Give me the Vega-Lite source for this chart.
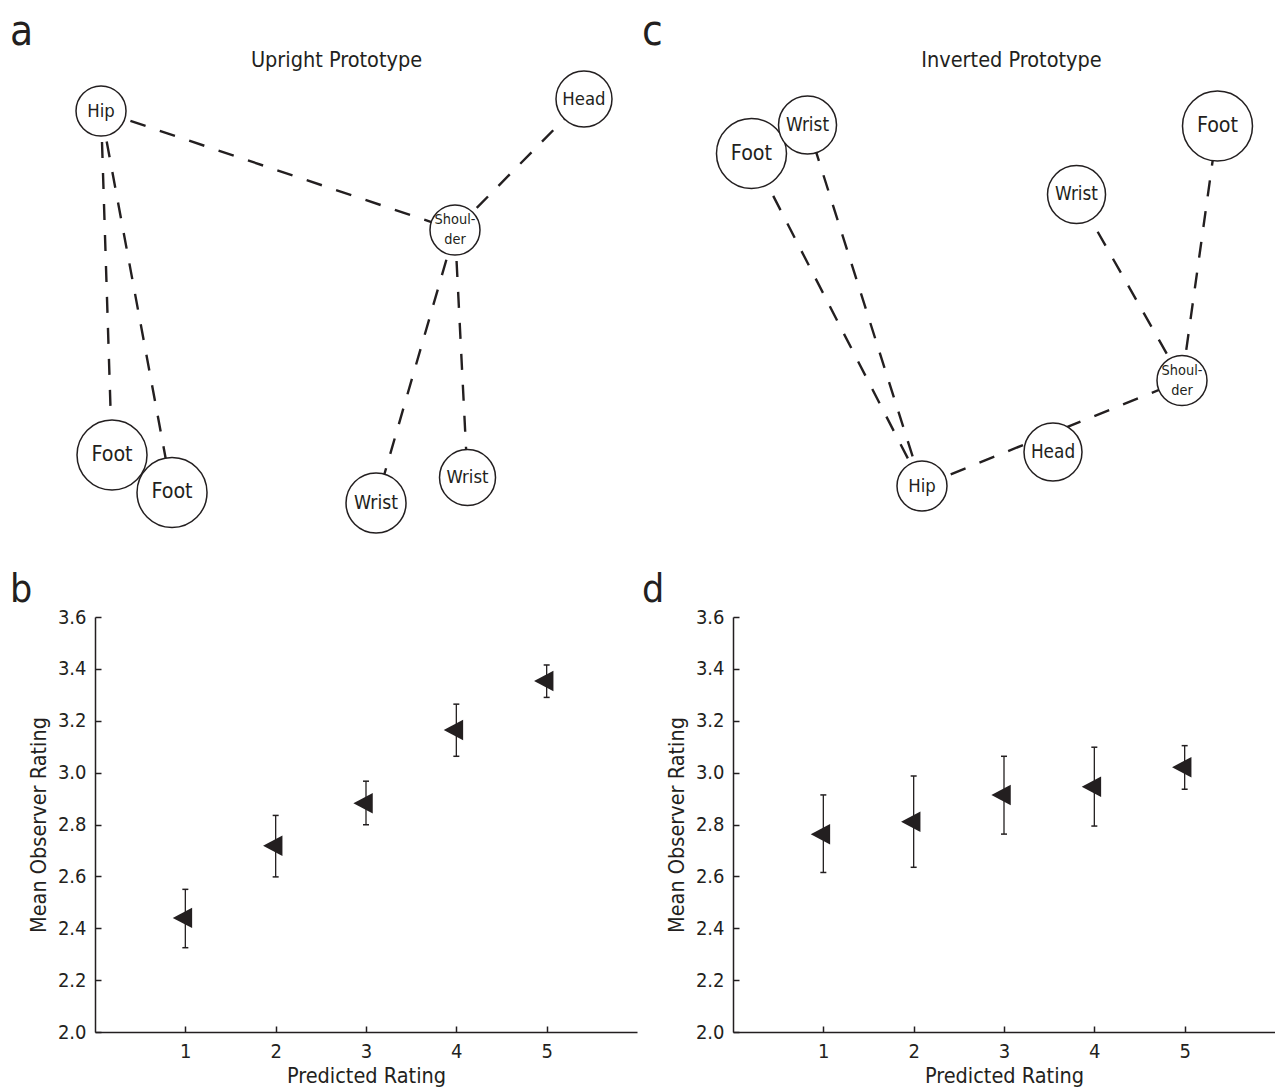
{
  "$schema": "https://vega.github.io/schema/vega-lite/v6.json",
  "background": "white",
  "padding": {"left": 10, "top": 11, "right": 0, "bottom": 0},
  "columns": 2,
  "spacing": {"row": 81, "column": 96},
  "bounds": "flush",
  "datasets": {
    "nodes": [
      {"panel": "a", "id": "a_hip", "part": "Hip", "label": "Hip", "x": 1.11, "y": 92.39, "w": 2.5},
      {"panel": "a", "id": "a_head", "part": "Head", "label": "Head", "x": 90.22, "y": 95.0, "w": 2.8},
      {"panel": "a", "id": "a_sh", "part": "Shoulder", "label": "Shoul-\nder", "x": 66.42, "y": 66.52, "w": 2.5},
      {"panel": "a", "id": "a_foot1", "part": "Foot", "label": "Foot", "x": 3.14, "y": 17.61, "w": 3.5},
      {"panel": "a", "id": "a_foot2", "part": "Foot", "label": "Foot", "x": 14.21, "y": 9.46, "w": 3.5},
      {"panel": "a", "id": "a_wr1", "part": "Wrist", "label": "Wrist", "x": 51.85, "y": 7.17, "w": 3.0},
      {"panel": "a", "id": "a_wr2", "part": "Wrist", "label": "Wrist", "x": 68.73, "y": 12.72, "w": 2.8},
      {"panel": "c", "id": "c_footL", "part": "Foot", "label": "Foot", "x": 3.41, "y": 83.15, "w": 3.5},
      {"panel": "c", "id": "c_wrL", "part": "Wrist", "label": "Wrist", "x": 13.75, "y": 89.35, "w": 2.9},
      {"panel": "c", "id": "c_footR", "part": "Foot", "label": "Foot", "x": 89.39, "y": 89.13, "w": 3.5},
      {"panel": "c", "id": "c_wrR", "part": "Wrist", "label": "Wrist", "x": 63.38, "y": 74.24, "w": 2.9},
      {"panel": "c", "id": "c_sh", "part": "Shoulder", "label": "Shoul-\nder", "x": 82.84, "y": 33.80, "w": 2.5},
      {"panel": "c", "id": "c_head", "part": "Head", "label": "Head", "x": 59.04, "y": 18.26, "w": 2.9},
      {"panel": "c", "id": "c_hip", "part": "Hip", "label": "Hip", "x": 34.87, "y": 10.87, "w": 2.5}
    ],
    "edges": [
      {"panel": "a", "from": "a_hip", "to": "a_sh"},
      {"panel": "a", "from": "a_sh", "to": "a_head"},
      {"panel": "a", "from": "a_hip", "to": "a_foot1"},
      {"panel": "a", "from": "a_hip", "to": "a_foot2"},
      {"panel": "a", "from": "a_sh", "to": "a_wr1"},
      {"panel": "a", "from": "a_sh", "to": "a_wr2"},
      {"panel": "c", "from": "c_hip", "to": "c_sh"},
      {"panel": "c", "from": "c_hip", "to": "c_footL"},
      {"panel": "c", "from": "c_hip", "to": "c_wrL"},
      {"panel": "c", "from": "c_sh", "to": "c_wrR"},
      {"panel": "c", "from": "c_sh", "to": "c_footR"}
    ],
    "ratings": [
      {"panel": "b", "predicted": 1, "mean": 2.44, "lo": 2.325, "hi": 2.55},
      {"panel": "b", "predicted": 2, "mean": 2.718, "lo": 2.598, "hi": 2.835},
      {"panel": "b", "predicted": 3, "mean": 2.882, "lo": 2.799, "hi": 2.967},
      {"panel": "b", "predicted": 4, "mean": 3.164, "lo": 3.063, "hi": 3.264},
      {"panel": "b", "predicted": 5, "mean": 3.353, "lo": 3.29, "hi": 3.415},
      {"panel": "d", "predicted": 1, "mean": 2.762, "lo": 2.615, "hi": 2.914},
      {"panel": "d", "predicted": 2, "mean": 2.811, "lo": 2.635, "hi": 2.987},
      {"panel": "d", "predicted": 3, "mean": 2.914, "lo": 2.763, "hi": 3.063},
      {"panel": "d", "predicted": 4, "mean": 2.946, "lo": 2.794, "hi": 3.098},
      {"panel": "d", "predicted": 5, "mean": 3.021, "lo": 2.936, "hi": 3.104}
    ]
  },
  "config": {
    "view": {"stroke": null},
    "font": "DejaVu Sans Condensed, DejaVu Sans, sans-serif",
    "text": {"font": "DejaVu Sans Condensed, DejaVu Sans, sans-serif"},
    "title": {"font": "DejaVu Sans Condensed, DejaVu Sans, sans-serif", "fontWeight": "normal", "color": "#231f20", "anchor": "start", "frame": "group", "baseline": "alphabetic"},
    "axis": {
      "labelFont": "DejaVu Sans Condensed, DejaVu Sans, sans-serif",
      "titleFont": "DejaVu Sans Condensed, DejaVu Sans, sans-serif",
      "labelFontSize": 20, "titleFontSize": 21.5, "titleFontWeight": "normal",
      "labelColor": "#231f20", "titleColor": "#231f20",
      "domainColor": "#231f20", "domainWidth": 1.5,
      "tickColor": "#231f20", "tickWidth": 1.5, "tickSize": -6, "grid": false
    },
    "axisX": {"labelPadding": 15, "titlePadding": 4},
    "axisY": {"labelPadding": 15, "titlePadding": 7}
  },
  "concat": [
    {
      "width": 542, "height": 460,
      "title": {"text": "a", "fontSize": 42, "dx": -85, "dy": 5, "offset": 0},
      "encoding": {
        "x": {"field": "x", "type": "quantitative", "scale": {"domain": [0, 100], "nice": false},
              "axis": {"orient": "top", "title": "Upright Prototype", "labels": false, "ticks": false, "domain": false,
                       "titleX": 241, "titleY": -10, "titleAlign": "center", "titleBaseline": "alphabetic", "titleFontSize": 21.5}},
        "y": {"field": "y", "type": "quantitative", "scale": {"domain": [0, 100], "nice": false}, "axis": null}
      },
      "layer": [
        {
          "data": {"name": "edges"},
          "transform": [
            {"filter": "datum.panel === 'a'"},
            {"lookup": "from", "from": {"data": {"name": "nodes"}, "key": "id", "fields": ["x", "y"]}},
            {"lookup": "to", "from": {"data": {"name": "nodes"}, "key": "id", "fields": ["x", "y"]}, "as": ["x2", "y2"]}
          ],
          "mark": {"type": "rule", "strokeDash": [16, 15], "strokeWidth": 2.4, "color": "#231f20"},
          "encoding": {"x2": {"field": "x2"}, "y2": {"field": "y2"}}
        },
        {
          "data": {"name": "nodes"},
          "transform": [{"filter": "datum.panel === 'a'"}],
          "mark": {"type": "point", "shape": "circle", "filled": true, "fill": "white", "stroke": "#231f20", "strokeWidth": 1.5, "opacity": 1},
          "encoding": {"size": {"field": "w", "type": "quantitative", "scale": {"type": "pow", "exponent": 2, "domain": [0, 3.5], "range": [0, 4900]}, "legend": null}}
        },
        {
          "data": {"name": "nodes"},
          "transform": [{"filter": "datum.panel === 'a' && datum.part !== 'Shoulder'"}],
          "mark": {"type": "text", "color": "#231f20", "baseline": "middle"},
          "encoding": {"text": {"field": "label"}, "size": {"field": "w", "type": "quantitative", "scale": {"domain": [2.8, 3.5], "range": [18.4, 21.3], "clamp": true}, "legend": null}}
        },
        {
          "data": {"name": "nodes"},
          "transform": [{"filter": "datum.panel === 'a' && datum.part === 'Shoulder'"}],
          "mark": {"type": "text", "color": "#231f20", "baseline": "middle", "fontSize": 14.4, "lineBreak": "\n", "lineHeight": 20, "dy": -10},
          "encoding": {"text": {"field": "label"}}
        }
      ],
      "resolve": {"scale": {"size": "independent"}}
    },
    {
      "width": 542, "height": 460,
      "title": {"text": "c", "fontSize": 42, "dx": -91, "dy": 5, "offset": 0},
      "encoding": {
        "x": {"field": "x", "type": "quantitative", "scale": {"domain": [0, 100], "nice": false},
              "axis": {"orient": "top", "title": "Inverted Prototype", "labels": false, "ticks": false, "domain": false,
                       "titleX": 278, "titleY": -10, "titleAlign": "center", "titleBaseline": "alphabetic", "titleFontSize": 21.5}},
        "y": {"field": "y", "type": "quantitative", "scale": {"domain": [0, 100], "nice": false}, "axis": null}
      },
      "layer": [
        {
          "data": {"name": "edges"},
          "transform": [
            {"filter": "datum.panel === 'c'"},
            {"lookup": "from", "from": {"data": {"name": "nodes"}, "key": "id", "fields": ["x", "y"]}},
            {"lookup": "to", "from": {"data": {"name": "nodes"}, "key": "id", "fields": ["x", "y"]}, "as": ["x2", "y2"]}
          ],
          "mark": {"type": "rule", "strokeDash": [16, 15], "strokeWidth": 2.4, "color": "#231f20"},
          "encoding": {"x2": {"field": "x2"}, "y2": {"field": "y2"}}
        },
        {
          "data": {"name": "nodes"},
          "transform": [{"filter": "datum.panel === 'c'"}],
          "mark": {"type": "point", "shape": "circle", "filled": true, "fill": "white", "stroke": "#231f20", "strokeWidth": 1.5, "opacity": 1},
          "encoding": {"size": {"field": "w", "type": "quantitative", "scale": {"type": "pow", "exponent": 2, "domain": [0, 3.5], "range": [0, 4900]}, "legend": null}}
        },
        {
          "data": {"name": "nodes"},
          "transform": [{"filter": "datum.panel === 'c' && datum.part !== 'Shoulder'"}],
          "mark": {"type": "text", "color": "#231f20", "baseline": "middle"},
          "encoding": {"text": {"field": "label"}, "size": {"field": "w", "type": "quantitative", "scale": {"domain": [2.8, 3.5], "range": [18.4, 21.3], "clamp": true}, "legend": null}}
        },
        {
          "data": {"name": "nodes"},
          "transform": [{"filter": "datum.panel === 'c' && datum.part === 'Shoulder'"}],
          "mark": {"type": "text", "color": "#231f20", "baseline": "middle", "fontSize": 14.4, "lineBreak": "\n", "lineHeight": 20, "dy": -10},
          "encoding": {"text": {"field": "label"}}
        }
      ],
      "resolve": {"scale": {"size": "independent"}}
    },
    {
      "width": 542, "height": 415,
      "title": {"text": "b", "fontSize": 39, "dx": -85, "dy": 9, "offset": 6},
      "data": {"name": "ratings"},
      "transform": [{"filter": "datum.panel === 'b'"}],
      "encoding": {
        "x": {"field": "predicted", "type": "quantitative", "title": "Predicted Rating",
              "scale": {"domain": [0, 6], "nice": false}, "axis": {"values": [1, 2, 3, 4, 5], "format": "d"}}
      },
      "layer": [
        {
          "mark": {"type": "rule", "strokeWidth": 1.3, "color": "#231f20"},
          "encoding": {
            "y": {"field": "lo", "type": "quantitative", "title": "Mean Observer Rating",
                  "scale": {"domain": [2, 3.6], "nice": false},
                  "axis": {"values": [2.0, 2.2, 2.4, 2.6, 2.8, 3.0, 3.2, 3.4, 3.6], "format": ".1f"}},
            "y2": {"field": "hi"}
          }
        },
        {
          "mark": {"type": "tick", "orient": "horizontal", "size": 6, "thickness": 1.5, "color": "#231f20", "opacity": 1},
          "encoding": {"y": {"field": "lo", "type": "quantitative", "title": "Mean Observer Rating"}}
        },
        {
          "mark": {"type": "tick", "orient": "horizontal", "size": 6, "thickness": 1.5, "color": "#231f20", "opacity": 1},
          "encoding": {"y": {"field": "hi", "type": "quantitative", "title": "Mean Observer Rating"}}
        },
        {
          "mark": {"type": "point", "shape": "M-1.23,0L0.66,-1L0.66,1Z", "filled": true, "size": 420, "color": "#231f20", "opacity": 1},
          "encoding": {"y": {"field": "mean", "type": "quantitative", "title": "Mean Observer Rating"}}
        }
      ]
    },
    {
      "width": 542, "height": 415,
      "title": {"text": "d", "fontSize": 39, "dx": -91, "dy": 9, "offset": 6},
      "data": {"name": "ratings"},
      "transform": [{"filter": "datum.panel === 'd'"}],
      "encoding": {
        "x": {"field": "predicted", "type": "quantitative", "title": "Predicted Rating",
              "scale": {"domain": [0, 6], "nice": false}, "axis": {"values": [1, 2, 3, 4, 5], "format": "d"}}
      },
      "layer": [
        {
          "mark": {"type": "rule", "strokeWidth": 1.3, "color": "#231f20"},
          "encoding": {
            "y": {"field": "lo", "type": "quantitative", "title": "Mean Observer Rating",
                  "scale": {"domain": [2, 3.6], "nice": false},
                  "axis": {"values": [2.0, 2.2, 2.4, 2.6, 2.8, 3.0, 3.2, 3.4, 3.6], "format": ".1f"}},
            "y2": {"field": "hi"}
          }
        },
        {
          "mark": {"type": "tick", "orient": "horizontal", "size": 6, "thickness": 1.5, "color": "#231f20", "opacity": 1},
          "encoding": {"y": {"field": "lo", "type": "quantitative", "title": "Mean Observer Rating"}}
        },
        {
          "mark": {"type": "tick", "orient": "horizontal", "size": 6, "thickness": 1.5, "color": "#231f20", "opacity": 1},
          "encoding": {"y": {"field": "hi", "type": "quantitative", "title": "Mean Observer Rating"}}
        },
        {
          "mark": {"type": "point", "shape": "M-1.23,0L0.66,-1L0.66,1Z", "filled": true, "size": 420, "color": "#231f20", "opacity": 1},
          "encoding": {"y": {"field": "mean", "type": "quantitative", "title": "Mean Observer Rating"}}
        }
      ]
    }
  ]
}
